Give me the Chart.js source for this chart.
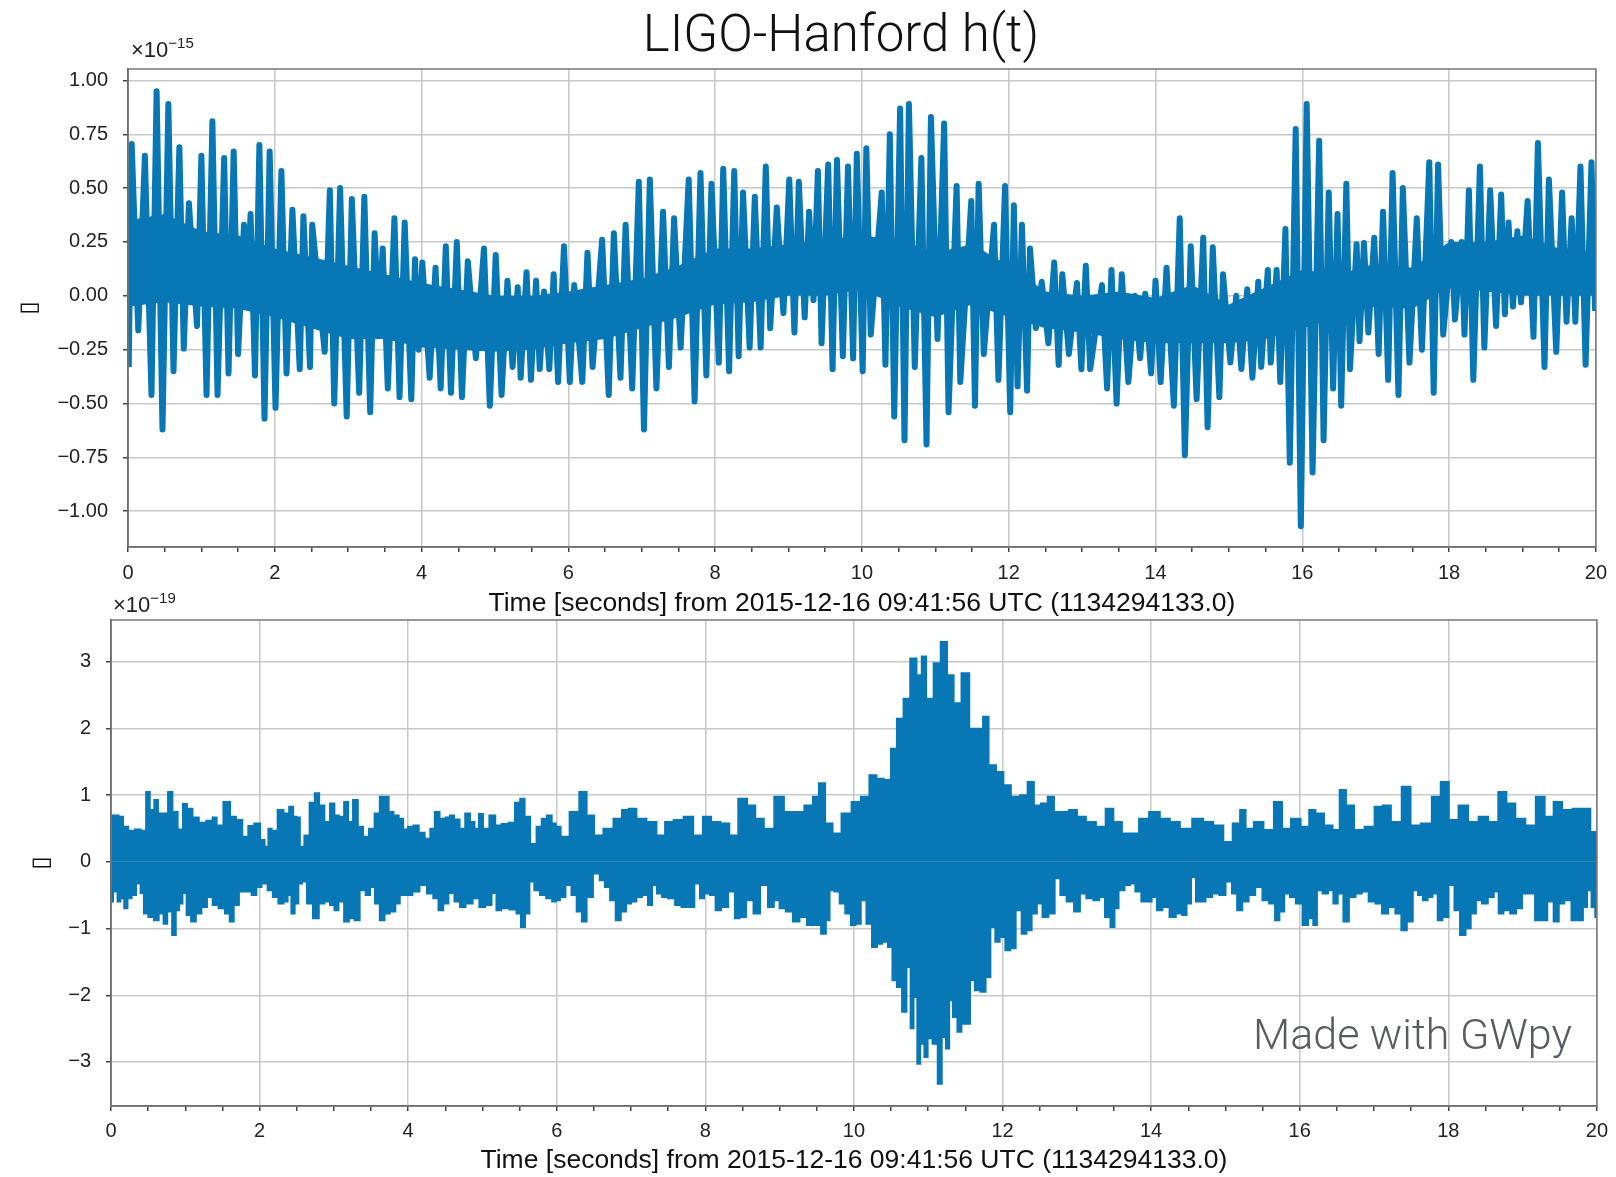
<!DOCTYPE html>
<html>
<head>
<meta charset="utf-8">
<script src="https://cdn.jsdelivr.net/npm/chart.js@4.4.1/dist/chart.umd.min.js"></script>
<style>
  body { margin: 0; background: #fff; width: 1616px; height: 1177px; position: relative; overflow: hidden;
         font-family: 'Liberation Sans', Arial, sans-serif; }
  canvas { position: absolute; left: 0; }
  #c1 { top: 0; }
  #c2 { top: 570px; }
  #title { position: absolute; left: 0; width: 1682px; top: 4px; text-align: center; line-height: 58px;
           font: 300 51px Roboto, 'Liberation Sans', sans-serif; color: #111; }
  .offset { position: absolute; font-size: 22px; line-height: 22px; color: #222; }
  .offset sup { font-size: 15px; position: relative; top: -9px; vertical-align: baseline; }
  #gwpy { position: absolute; left: 1253px; top: 1009px; line-height: 46px;
          font: 300 43px Roboto, 'Liberation Sans', sans-serif; color: #575b62; }
</style>
</head>
<body>
<canvas id="c1" width="1616" height="620"></canvas>
<canvas id="c2" width="1616" height="607"></canvas>
<div id="title">LIGO-Hanford h(t)</div>
<div class="offset" style="left:131px;top:39px">×10<sup>−15</sup></div>
<div class="offset" style="left:113px;top:594px">×10<sup>−19</sup></div>
<div id="gwpy">Made with GWpy</div>
<script>
// raw strain h(t), units of 1e-15: [time s, value] at each visible peak / trough
const rawStrain = [
  [0.01,-0.33],[0.05,0.705],[0.14,-0.16],[0.23,0.65],[0.32,-0.46],[0.39,0.95],[0.47,-0.62],[0.55,0.89],[0.62,-0.35],[0.70,0.69],
  [0.76,-0.245],[0.83,0.43],[0.94,-0.14],[1.00,0.65],[1.07,-0.46],[1.15,0.81],[1.22,-0.46],[1.31,0.64],[1.37,-0.36],[1.44,0.67],
  [1.50,-0.27],[1.58,0.33],[1.62,-0.05],[1.67,0.38],[1.73,-0.37],[1.79,0.70],[1.86,-0.57],[1.93,0.67],[2.01,-0.52],[2.09,0.58],
  [2.16,-0.36],[2.24,0.40],[2.34,-0.34],[2.39,0.37],[2.48,-0.33],[2.51,0.33],[2.68,-0.26],[2.75,0.49],[2.81,-0.50],[2.89,0.50],
  [2.98,-0.56],[3.05,0.45],[3.15,-0.45],[3.22,0.46],[3.30,-0.54],[3.36,0.29],[3.42,-0.14],[3.47,0.22],[3.54,-0.43],[3.63,0.36],
  [3.70,-0.47],[3.77,0.34],[3.86,-0.48],[3.91,0.17],[3.96,-0.25],[4.01,0.155],[4.11,-0.38],[4.19,0.13],[4.26,-0.43],[4.33,0.23],
  [4.40,-0.45],[4.48,0.25],[4.55,-0.47],[4.63,0.16],[4.74,-0.29],[4.85,0.22],[4.93,-0.51],[5.01,0.19],[5.09,-0.46],[5.17,0.07],
  [5.24,-0.33],[5.31,0.04],[5.35,-0.38],[5.43,0.11],[5.49,-0.39],[5.56,0.07],[5.61,-0.34],[5.67,0.02],[5.74,-0.34],[5.80,0.10],
  [5.86,-0.40],[5.94,0.23],[6.02,-0.40],[6.08,0.05],[6.19,-0.40],[6.26,0.20],[6.33,-0.33],[6.46,0.26],[6.55,-0.46],[6.62,0.29],
  [6.71,-0.38],[6.78,0.33],[6.87,-0.43],[6.96,0.53],[7.03,-0.62],[7.11,0.54],[7.20,-0.43],[7.29,0.39],[7.37,-0.33],[7.44,0.36],
  [7.53,-0.24],[7.64,0.54],[7.72,-0.49],[7.80,0.57],[7.88,-0.37],[7.95,0.52],[8.05,-0.31],[8.11,0.59],[8.19,-0.35],[8.26,0.58],
  [8.32,-0.28],[8.38,0.48],[8.47,-0.24],[8.54,0.46],[8.62,-0.24],[8.69,0.60],[8.75,-0.15],[8.84,0.41],[8.93,-0.08],[9.01,0.54],
  [9.08,-0.17],[9.14,0.53],[9.22,-0.10],[9.28,0.39],[9.34,-0.02],[9.40,0.58],[9.45,-0.22],[9.54,0.61],[9.60,-0.34],[9.66,0.63],
  [9.74,-0.28],[9.81,0.60],[9.88,-0.29],[9.93,0.66],[10.01,-0.35],[10.06,0.685],[10.12,-0.18],[10.27,0.48],[10.32,-0.32],[10.38,0.75],
  [10.44,-0.56],[10.52,0.87],[10.58,-0.67],[10.64,0.89],[10.72,-0.33],[10.81,0.64],[10.88,-0.69],[10.94,0.83],[11.03,-0.20],[11.12,0.80],
  [11.18,-0.54],[11.29,0.51],[11.34,-0.40],[11.49,0.44],[11.54,-0.51],[11.59,0.52],[11.66,-0.27],[11.80,0.33],[11.86,-0.39],[11.95,0.51],
  [12.02,-0.54],[12.07,0.42],[12.12,-0.42],[12.18,0.33],[12.25,-0.44],[12.29,0.22],[12.37,-0.15],[12.45,0.065],[12.54,-0.22],[12.62,0.155],
  [12.68,-0.32],[12.73,0.10],[12.82,-0.27],[12.93,0.06],[12.99,-0.34],[13.05,0.14],[13.11,-0.34],[13.27,0.05],[13.34,-0.43],[13.40,0.12],
  [13.47,-0.50],[13.54,0.10],[13.63,-0.40],[13.72,0.00],[13.79,-0.29],[13.86,0.01],[13.94,-0.36],[14.00,0.07],[14.07,-0.40],[14.15,0.13],
  [14.25,-0.51],[14.33,0.36],[14.40,-0.74],[14.48,0.23],[14.56,-0.48],[14.65,0.27],[14.71,-0.61],[14.78,0.225],[14.87,-0.47],[14.92,0.10],
  [15.02,-0.31],[15.10,0.00],[15.17,-0.34],[15.25,0.03],[15.32,-0.38],[15.40,0.065],[15.44,-0.33],[15.53,0.12],[15.57,-0.31],[15.65,0.12],
  [15.70,-0.40],[15.77,0.31],[15.83,-0.775],[15.91,0.775],[15.98,-1.07],[16.06,0.89],[16.14,-0.82],[16.23,0.72],[16.29,-0.67],[16.36,0.48],
  [16.42,-0.43],[16.48,0.38],[16.53,-0.51],[16.60,0.52],[16.65,-0.34],[16.74,0.24],[16.78,-0.21],[16.84,0.245],[16.90,-0.17],[16.98,0.27],
  [17.04,-0.27],[17.10,0.39],[17.17,-0.39],[17.23,0.57],[17.31,-0.46],[17.37,0.50],[17.46,-0.31],[17.56,0.36],[17.63,-0.25],[17.73,0.62],
  [17.79,-0.45],[17.85,0.61],[17.92,-0.18],[18.03,0.25],[18.08,-0.11],[18.17,0.25],[18.21,-0.18],[18.27,0.49],[18.33,-0.39],[18.42,0.60],
  [18.48,-0.24],[18.56,0.49],[18.64,-0.14],[18.71,0.47],[18.76,-0.085],[18.81,0.34],[18.87,-0.05],[18.93,0.30],[18.98,-0.03],[19.07,0.44],
  [19.15,-0.19],[19.21,0.71],[19.30,-0.33],[19.36,0.54],[19.46,-0.26],[19.54,0.48],[19.60,-0.12],[19.67,0.36],[19.72,-0.12],[19.79,0.60],
  [19.86,-0.32],[19.94,0.62],[19.99,-0.07]
];

// dense core of the raw trace (where the fast oscillations overlap), units of 1e-15
const coreTimes = [0,0.5,1,1.5,2,2.5,3,3.5,4,4.5,5,5.5,6,6.5,7,7.5,8,8.5,9,9.5,10,10.5,11,11.5,12,12.5,13,13.5,14,14.5,15,15.5,16,16.5,17,17.5,18,18.5,19,19.5,20];
const coreHigh = [0.35,0.38,0.30,0.28,0.22,0.18,0.14,0.10,0.06,0.03,0.00,0.00,0.02,0.05,0.08,0.14,0.22,0.22,0.24,0.26,0.28,0.26,0.20,0.24,0.14,0.02,0.00,0.02,-0.01,0.05,-0.04,0.04,0.12,0.10,0.15,0.13,0.25,0.25,0.28,0.22,0.20];
const coreLow = [-0.05,-0.03,-0.05,-0.06,-0.10,-0.15,-0.20,-0.20,-0.24,-0.25,-0.26,-0.25,-0.22,-0.20,-0.15,-0.10,-0.04,-0.03,0.00,0.00,0.03,-0.05,-0.10,-0.04,-0.10,-0.15,-0.17,-0.20,-0.22,-0.22,-0.22,-0.20,-0.15,-0.10,-0.05,-0.06,0.04,0.02,0.00,0.00,0.00];

// filtered strain, units of 1e-19: upper and lower envelope of the band
const filteredUpper = [
  [0.00,0.70],[0.08,0.70],[0.13,0.68],[0.20,0.53],[0.27,0.47],[0.37,0.49],[0.44,0.47],[0.50,1.05],[0.55,0.78],[0.61,0.93],
  [0.66,0.73],[0.73,0.73],[0.80,1.05],[0.86,0.75],[0.94,0.49],[0.99,0.87],[1.06,0.80],[1.14,0.67],[1.23,0.59],[1.33,0.62],
  [1.40,0.67],[1.45,0.55],[1.57,0.90],[1.64,0.68],[1.73,0.63],[1.81,0.38],[1.88,0.54],[1.97,0.58],[2.05,0.33],[2.09,0.23],
  [2.14,0.50],[2.19,0.47],[2.29,0.78],[2.36,0.73],[2.43,0.83],[2.48,0.68],[2.52,0.67],[2.57,0.23],[2.63,0.40],[2.71,0.89],
  [2.77,1.03],[2.84,0.85],[2.91,0.60],[2.98,0.88],[3.04,0.70],[3.10,0.68],[3.17,0.90],[3.22,0.60],[3.29,0.93],[3.36,0.53],
  [3.43,0.38],[3.51,0.50],[3.58,0.73],[3.65,0.98],[3.71,0.98],[3.77,0.75],[3.84,0.70],[3.91,0.65],[3.96,0.49],[4.03,0.53],
  [4.11,0.55],[4.18,0.44],[4.27,0.35],[4.32,0.50],[4.39,0.75],[4.46,0.65],[4.54,0.67],[4.58,0.70],[4.66,0.64],[4.73,0.50],
  [4.80,0.73],[4.87,0.60],[4.92,0.50],[4.98,0.72],[5.04,0.50],[5.14,0.70],[5.21,0.55],[5.30,0.57],[5.40,0.59],[5.47,0.89],
  [5.54,0.95],[5.60,0.68],[5.69,0.27],[5.76,0.53],[5.83,0.65],[5.90,0.70],[5.97,0.58],
  [6.01,0.53],[6.10,0.38],[6.24,0.75],[6.36,1.05],[6.45,0.70],[6.56,0.40],[6.69,0.50],[6.83,0.65],[6.92,0.78],[7.01,0.80],
  [7.14,0.65],[7.28,0.60],[7.41,0.40],[7.50,0.60],[7.64,0.63],[7.77,0.68],[7.91,0.40],[8.02,0.68],[8.14,0.60],[8.27,0.58],
  [8.38,0.40],[8.50,0.95],[8.63,0.85],[8.72,0.65],[8.86,0.50],[8.99,0.98],[9.13,0.75],[9.26,0.75],[9.40,0.85],[9.49,0.98],
  [9.56,1.18],[9.67,0.58],[9.76,0.43],[9.90,0.73],[10.03,0.90],[10.15,0.98],[10.26,1.30],[10.35,1.25],[10.46,1.23],[10.53,1.70],
  [10.62,2.15],[10.71,2.45],[10.80,3.05],[10.89,2.80],[10.93,3.08],[11.02,2.45],[11.12,2.98],[11.21,3.30],[11.30,2.80],[11.39,2.38],
  [11.50,2.83],[11.61,2.00],[11.70,2.00],[11.77,2.18],[11.86,1.45],[11.97,1.35],[12.06,1.15],[12.17,0.98],[12.29,1.00],[12.38,1.20],
  [12.47,0.85],[12.56,0.88],[12.65,0.98],[12.74,0.75],[12.83,0.75],[12.95,0.78],[13.06,0.68],[13.19,0.60],[13.33,0.53],[13.44,0.80],
  [13.55,0.60],[13.67,0.43],[13.78,0.43],[13.89,0.65],[14.05,0.75],[14.19,0.65],[14.32,0.60],[14.46,0.50],[14.64,0.65],[14.77,0.60],
  [14.91,0.55],[15.04,0.30],[15.15,0.58],[15.24,0.78],[15.31,0.50],[15.45,0.60],[15.58,0.48],[15.72,0.90],[15.81,0.50],[15.95,0.65],
  [16.08,0.53],[16.17,0.78],[16.26,0.73],[16.40,0.55],[16.49,0.48],[16.58,1.08],[16.67,0.85],[16.80,0.48],[16.94,0.53],[17.07,0.83],
  [17.16,0.85],[17.30,0.60],[17.44,1.13],[17.55,0.55],[17.71,0.58],[17.84,0.98],[17.95,1.20],[18.07,0.63],[18.20,0.85],[18.34,0.60],
  [18.47,0.68],[18.61,0.60],[18.73,1.05],[18.84,0.88],[18.97,0.65],[19.11,0.55],[19.24,0.98],[19.36,0.68],[19.47,0.90],[19.60,0.78],
  [19.74,0.80],[19.87,0.80],[19.96,0.45],[20.00,0.45]
];
const filteredLower = [
  [0.00,-0.60],[0.06,-0.45],[0.11,-0.60],[0.15,-0.55],[0.20,-0.70],[0.25,-0.55],[0.31,-0.50],[0.37,-0.33],[0.42,-0.47],[0.46,-0.78],
  [0.54,-0.83],[0.61,-0.88],[0.68,-0.78],[0.73,-0.93],[0.79,-0.75],[0.85,-1.10],[0.90,-0.73],[0.94,-0.63],[0.99,-0.47],[1.04,-0.80],
  [1.11,-0.90],[1.18,-0.78],[1.26,-0.68],[1.33,-0.53],[1.40,-0.65],[1.49,-0.70],[1.57,-0.78],[1.62,-0.90],[1.69,-0.65],[1.76,-0.45],
  [1.85,-0.45],[1.93,-0.50],[1.99,-0.38],[2.07,-0.33],[2.14,-0.43],[2.21,-0.53],[2.29,-0.63],[2.36,-0.60],[2.40,-0.50],[2.45,-0.78],
  [2.50,-0.63],[2.55,-0.33],[2.60,-0.30],[2.67,-0.63],[2.76,-0.85],[2.84,-0.63],[2.91,-0.60],[2.98,-0.65],[3.03,-0.73],[3.10,-0.60],
  [3.17,-0.90],[3.24,-0.85],[3.31,-0.88],[3.39,-0.43],[3.46,-0.50],[3.52,-0.38],[3.58,-0.63],[3.65,-0.88],[3.72,-0.78],[3.79,-0.75],
  [3.87,-0.63],[3.91,-0.50],[4.01,-0.50],[4.11,-0.45],[4.20,-0.35],[4.30,-0.48],[4.37,-0.55],[4.44,-0.73],[4.51,-0.63],[4.58,-0.47],
  [4.66,-0.60],[4.73,-0.68],[4.82,-0.63],[4.92,-0.55],[4.99,-0.68],[5.09,-0.65],[5.16,-0.47],[5.21,-0.73],[5.30,-0.70],[5.42,-0.72],
  [5.49,-0.78],[5.54,-0.98],[5.61,-0.78],[5.66,-0.30],[5.73,-0.43],[5.81,-0.50],[5.90,-0.55],[5.97,-0.60],
  [6.01,-0.58],[6.08,-0.53],[6.16,-0.35],[6.23,-0.50],[6.30,-0.75],[6.37,-0.90],[6.44,-0.53],[6.54,-0.18],[6.61,-0.28],[6.68,-0.38],
  [6.75,-0.58],[6.83,-0.88],[6.90,-0.75],[6.97,-0.63],[7.04,-0.60],[7.11,-0.53],[7.19,-0.50],[7.26,-0.65],[7.31,-0.35],[7.38,-0.48],
  [7.45,-0.53],[7.54,-0.55],[7.64,-0.65],[7.71,-0.68],[7.81,-0.68],[7.90,-0.33],[7.95,-0.55],[8.02,-0.48],[8.10,-0.50],[8.17,-0.73],
  [8.26,-0.68],[8.36,-0.45],[8.43,-0.85],[8.50,-0.83],[8.60,-0.58],[8.69,-0.78],[8.79,-0.35],[8.89,-0.68],[8.96,-0.58],[9.03,-0.70],
  [9.13,-0.75],[9.22,-0.90],[9.32,-0.83],[9.41,-0.95],[9.51,-0.95],[9.60,-1.08],[9.65,-0.88],[9.70,-0.43],[9.77,-0.45],[9.84,-0.63],
  [9.92,-0.78],[9.99,-0.95],[10.06,-0.93],[10.13,-0.58],[10.20,-0.93],[10.28,-1.28],[10.35,-1.23],[10.42,-1.20],[10.49,-1.28],[10.54,-1.78],
  [10.61,-1.88],[10.68,-2.25],[10.74,-1.58],[10.78,-2.50],[10.83,-2.03],[10.87,-3.03],[10.92,-2.73],[10.97,-2.93],[11.02,-2.65],[11.09,-2.73],
  [11.16,-3.33],[11.21,-2.63],[11.26,-2.80],[11.31,-2.08],[11.35,-2.33],[11.43,-2.55],[11.47,-2.43],[11.54,-2.43],[11.59,-1.78],[11.66,-1.93],
  [11.74,-1.95],[11.81,-1.73],[11.87,-0.98],[11.93,-1.20],[12.00,-1.13],[12.07,-1.33],[12.14,-1.30],[12.22,-0.73],[12.29,-1.08],[12.36,-1.03],
  [12.43,-0.78],[12.50,-0.63],[12.57,-0.83],[12.67,-0.78],[12.74,-0.25],[12.81,-0.50],[12.91,-0.60],[13.01,-0.75],[13.08,-0.48],[13.17,-0.55],
  [13.27,-0.58],[13.34,-0.53],[13.41,-0.83],[13.49,-0.98],
  [13.53,-0.70],[13.60,-0.43],[13.69,-0.35],[13.75,-0.33],[13.82,-0.45],[13.91,-0.60],[13.98,-0.60],[14.04,-0.53],[14.11,-0.73],[14.20,-0.68],
  [14.29,-0.83],[14.38,-0.78],[14.45,-0.80],[14.51,-0.63],[14.57,-0.23],[14.63,-0.60],[14.69,-0.60],[14.78,-0.53],[14.87,-0.48],[14.96,-0.50],
  [15.05,-0.30],[15.12,-0.48],[15.19,-0.73],[15.27,-0.60],[15.36,-0.50],[15.45,-0.38],[15.54,-0.58],[15.63,-0.63],[15.70,-0.88],[15.76,-0.75],
  [15.83,-0.48],[15.90,-0.53],[15.99,-0.63],[16.08,-0.95],[16.15,-0.85],[16.21,-0.95],[16.26,-0.43],[16.35,-0.48],[16.42,-0.43],[16.48,-0.63],
  [16.55,-0.48],[16.62,-0.90],[16.71,-0.53],[16.80,-0.48],[16.88,-0.45],[16.97,-0.60],[17.06,-0.63],[17.15,-0.78],[17.24,-0.68],[17.33,-0.78],
  [17.40,-1.03],[17.49,-0.90],[17.56,-0.43],[17.62,-0.50],[17.69,-0.58],[17.76,-0.53],[17.82,-0.48],[17.89,-0.88],[17.96,-0.83],[18.05,-0.35],
  [18.11,-0.73],[18.20,-1.10],[18.27,-1.00],[18.34,-0.78],[18.41,-0.58],[18.49,-0.63],[18.58,-0.53],[18.65,-0.45],[18.70,-0.78],[18.79,-0.73],
  [18.87,-0.78],[18.96,-0.70],[19.03,-0.48],[19.12,-0.48],[19.21,-0.88],[19.30,-0.88],[19.37,-0.60],[19.46,-0.90],[19.52,-0.63],[19.61,-0.58],
  [19.70,-0.88],[19.79,-0.88],[19.84,-0.68],[19.90,-0.43],[19.95,-0.68],[20.00,-0.83]
];

const xTicks = [0,0.5,1,1.5,2,2.5,3,3.5,4,4.5,5,5.5,6,6.5,7,7.5,8,8.5,9,9.5,10,10.5,11,11.5,12,12.5,13,13.5,14,14.5,15,15.5,16,16.5,17,17.5,18,18.5,19,19.5,20];
const rawYTicks = [-1, -0.75, -0.5, -0.25, 0, 0.25, 0.5, 0.75, 1];
const filteredYTicks = [-3, -2, -1, 0, 1, 2, 3];
const xLabel = 'Time [seconds] from 2015-12-16 09:41:56 UTC (1134294133.0)';

const BLUE = '#0877b6';
const minus = s => s.replace('-', '\u2212');

const frame = {
  id: 'frame',
  afterDraw(chart) {
    const { ctx, chartArea: a } = chart;
    ctx.save();
    ctx.strokeStyle = '#777';
    ctx.lineWidth = 1.5;
    ctx.strokeRect(a.left, a.top, a.right - a.left, a.bottom - a.top);
    ctx.restore();
  }
};

function xAxis(height, pad) {
  return {
    type: 'linear', min: 0, max: 20,
    afterFit: s => { s.height = height; },
    afterBuildTicks: s => { s.ticks = xTicks.map(v => ({ value: v })); },
    ticks: { autoSkip: false, maxRotation: 0, padding: pad, color: '#222', font: { size: 20 },
             callback: v => (v % 2 === 0 ? String(v) : '') },
    grid: { color: c => (c.tick && c.tick.value % 2 === 0 ? '#c8c8c8' : 'rgba(0,0,0,0)'),
            lineWidth: 1.5, tickLength: 5, tickColor: '#444', tickWidth: 1.5 },
    border: { color: '#555', width: 1.5 },
    title: { display: true, text: xLabel, color: '#111', font: { size: 26.5 }, padding: { top: 0, bottom: 0 } }
  };
}

function yAxis(width, min, max, ticks, fmt, titlePad) {
  return {
    min, max,
    afterFit: s => { s.width = width; },
    afterBuildTicks: s => { s.ticks = ticks.map(v => ({ value: v })); },
    ticks: { padding: 15, color: '#222', font: { size: 20 }, callback: v => minus(fmt(v)) },
    grid: { color: '#c8c8c8', lineWidth: 1.5, tickLength: 5, tickColor: '#444', tickWidth: 1.5 },
    border: { color: '#555', width: 1.5 },
    title: { display: true, text: '\u25AF', color: '#111', font: { size: 24, family: 'DejaVu Sans' },
             padding: { top: titlePad, bottom: 0 } }
  };
}

const common = {
  responsive: false, animation: false, devicePixelRatio: 1,
  elements: { point: { radius: 0 }, line: { tension: 0 } },
  plugins: { legend: { display: false }, tooltip: { enabled: false } }
};
Chart.defaults.font.family = "'Liberation Sans', Arial, sans-serif";

new Chart(document.getElementById('c1'), {
  type: 'line',
  data: {
    datasets: [
      { data: rawStrain.map(p => ({ x: p[0], y: p[1] })), borderColor: BLUE, borderWidth: 6,
        borderJoinStyle: 'round', fill: false },
      { data: coreTimes.map((t, i) => ({ x: t, y: coreHigh[i] })), borderWidth: 0, borderColor: BLUE,
        backgroundColor: BLUE, fill: '+1' },
      { data: coreTimes.map((t, i) => ({ x: t, y: coreLow[i] })), borderWidth: 0, borderColor: BLUE, fill: false }
    ]
  },
  options: {
    ...common,
    layout: { padding: { top: 69, right: 16, left: 0, bottom: 0 } },
    scales: {
      x: xAxis(73, 9),
      y: yAxis(128, -1.166, 1.053, rawYTicks, v => v.toFixed(2), 15)
    }
  },
  plugins: [frame]
});

new Chart(document.getElementById('c2'), {
  type: 'line',
  data: {
    datasets: [
      { data: filteredUpper.map(p => ({ x: p[0], y: p[1] })), borderColor: BLUE, borderWidth: 1.5,
        backgroundColor: BLUE, fill: 'origin', stepped: 'middle' },
      { data: filteredLower.map(p => ({ x: p[0], y: p[1] })), borderColor: BLUE, borderWidth: 1.5,
        backgroundColor: BLUE, fill: 'origin', stepped: 'middle' }
    ]
  },
  options: {
    ...common,
    layout: { padding: { top: 50, right: 16, left: 0, bottom: 0 } },
    scales: {
      x: xAxis(71, 8),
      y: yAxis(111, -3.66, 3.625, filteredYTicks, v => String(v), 27)
    }
  },
  plugins: [frame]
});
</script>
</body>
</html>
